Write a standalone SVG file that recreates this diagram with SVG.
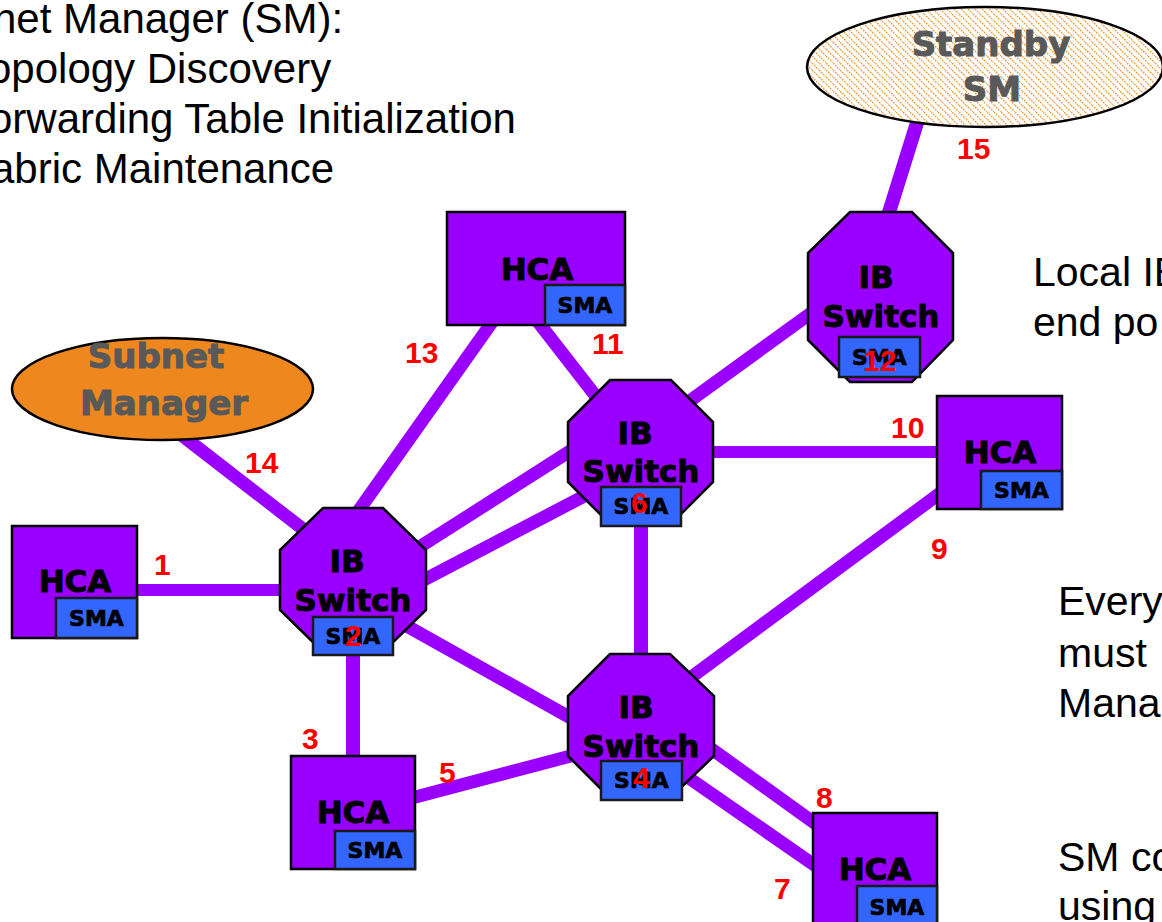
<svg xmlns="http://www.w3.org/2000/svg" width="1162" height="922" viewBox="0 0 1162 922">
<style>
.link{stroke:#9900FF;stroke-width:13;fill:none}
.sw{fill:#9900FF;stroke:#000;stroke-width:2.5}
.hca{fill:#9900FF;stroke:#000;stroke-width:2.5}
.sma{fill:#3366FF;stroke:#1a1a1a;stroke-width:2.5}
.nt{font-family:"DejaVu Sans",Verdana,sans-serif;font-weight:bold;font-size:31px;fill:#000;stroke:#000;stroke-width:1;text-anchor:middle}
.st{font-family:"DejaVu Sans",Verdana,sans-serif;font-weight:bold;font-size:22px;fill:#000;stroke:#000;stroke-width:0.7;text-anchor:middle}
.sm{font-family:"DejaVu Sans",Verdana,sans-serif;font-weight:bold;font-size:34px;fill:#595959;stroke:#595959;stroke-width:1;text-anchor:middle}
.num{font-family:"Liberation Sans",Arial,sans-serif;font-weight:bold;font-size:30px;fill:#FF0000}
.body{font-family:"Liberation Sans",Arial,sans-serif;font-size:42px;fill:#000}
.body2{font-family:"Liberation Sans",Arial,sans-serif;font-size:41px;fill:#000}
</style>
<defs>
<pattern id="hatch" patternUnits="userSpaceOnUse" width="7" height="7">
<rect width="7" height="7" fill="#FFFFFF"/>
<line x1="0" y1="0" x2="7" y2="7" stroke="#F29A3A" stroke-width="1.4" stroke-dasharray="1.8 1.1"/>
</pattern>
</defs>
<rect width="1162" height="922" fill="#FFFFFF"/>

<g id="text-left">
<text class="body" x="-7" y="33">net Manager (SM):</text>
<text class="body" x="-12" y="83">opology Discovery</text>
<text class="body" x="-11" y="133">orwarding Table Initialization</text>
<text class="body" x="-9" y="183">abric Maintenance</text>
</g>
<g id="text-right">
<text class="body2" x="1033" y="286">Local IB</text>
<text class="body2" x="1033" y="336">end po</text>
<text class="body2" x="1058" y="615">Every</text>
<text class="body2" x="1058" y="667">must</text>
<text class="body2" x="1058" y="717">Mana</text>
<text class="body2" x="1058" y="871">SM co</text>
<text class="body2" x="1058" y="920">using</text>
</g>

<g id="connectors">
<line class="link" x1="130" y1="590" x2="290" y2="590" style="stroke-width:12"/>
<line class="link" x1="175" y1="430" x2="312" y2="536"/>
<line class="link" x1="495" y1="318" x2="352" y2="520"/>
<line class="link" x1="535" y1="318" x2="605" y2="408"/>
<line class="link" x1="680" y1="408" x2="818" y2="308"/>
<line class="link" x1="705" y1="452" x2="945" y2="452" style="stroke-width:12"/>
<line class="link" x1="410" y1="553" x2="578" y2="446"/>
<line class="link" x1="418" y1="583" x2="592" y2="492"/>
<line class="link" x1="641" y1="520" x2="641" y2="660" style="stroke-width:14"/>
<line class="link" x1="405" y1="625" x2="578" y2="722"/>
<line class="link" x1="682" y1="684" x2="943" y2="491"/>
<line class="link" x1="408" y1="799" x2="582" y2="753"/>
<line class="link" x1="353" y1="650" x2="353" y2="762" style="stroke-width:14"/>
<line class="link" x1="706" y1="745" x2="820" y2="827"/>
<line class="link" x1="686" y1="776" x2="820" y2="869"/>
<line class="link" x1="921" y1="110" x2="886" y2="222" style="stroke-width:14"/>
</g>

<g id="subnet-manager">
<ellipse cx="162.5" cy="389" rx="150.5" ry="51" fill="#EE881E" stroke="#000" stroke-width="2.5"/>
<text class="sm" x="156" y="368">Subnet</text>
<text class="sm" x="164" y="415">Manager</text>
</g>

<g id="standby-sm">
<ellipse cx="985" cy="67" rx="178" ry="60" fill="url(#hatch)" stroke="#000" stroke-width="2.5"/>
<text class="sm" x="991" y="56">Standby</text>
<text class="sm" x="992" y="101">SM</text>
</g>

<g id="switch-2">
<polygon class="sw" points="323,508 383,508 426,550 426,610 383,652 323,652 280,610 280,550"/>
<text class="nt" x="347" y="572">IB</text>
<text class="nt" x="353" y="611">Switch</text>
<rect class="sma" x="313" y="617" width="80" height="38"/>
<text class="st" x="353" y="644">SMA</text>
</g>

<g id="switch-6">
<polygon class="sw" points="610,380 671,380 713,422 713,482 671,524 610,524 568,482 568,422"/>
<text class="nt" x="635" y="444">IB</text>
<text class="nt" x="641" y="482">Switch</text>
<rect class="sma" x="601" y="487" width="80" height="39"/>
<text class="st" x="641" y="514">SMA</text>
</g>

<g id="switch-4">
<polygon class="sw" points="610,654 670,654 714,696 714,756 670,798 610,798 568,756 568,696"/>
<text class="nt" x="636" y="718">IB</text>
<text class="nt" x="641" y="757">Switch</text>
<rect class="sma" x="601" y="761" width="81" height="39"/>
<text class="st" x="641.5" y="788">SMA</text>
</g>

<g id="switch-12">
<polygon class="sw" points="850,212 912,212 953,253 953,340 912,382 850,382 808,340 808,253"/>
<text class="nt" x="876" y="288">IB</text>
<text class="nt" x="881" y="327">Switch</text>
<rect class="sma" x="839" y="337" width="81" height="40"/>
<text class="st" x="879.5" y="365">SMA</text>
</g>

<g id="hca-left">
<rect class="hca" x="12" y="526" width="125" height="112"/>
<text class="nt" x="75" y="592">HCA</text>
<rect class="sma" x="56" y="598" width="81" height="40"/>
<text class="st" x="96.5" y="626">SMA</text>
</g>

<g id="hca-top">
<rect class="hca" x="447" y="212" width="178" height="113"/>
<text class="nt" x="537" y="280">HCA</text>
<rect class="sma" x="545" y="285" width="80" height="40"/>
<text class="st" x="585" y="313">SMA</text>
</g>

<g id="hca-right">
<rect class="hca" x="937" y="396" width="125" height="113"/>
<text class="nt" x="1000" y="463">HCA</text>
<rect class="sma" x="981" y="471" width="81" height="38"/>
<text class="st" x="1021.5" y="498">SMA</text>
</g>

<g id="hca-bottom-left">
<rect class="hca" x="291" y="756" width="124" height="113"/>
<text class="nt" x="353" y="823">HCA</text>
<rect class="sma" x="335" y="831" width="80" height="38"/>
<text class="st" x="375" y="858">SMA</text>
</g>

<g id="hca-bottom-right">
<rect class="hca" x="813" y="813" width="124" height="113"/>
<text class="nt" x="875" y="880">HCA</text>
<rect class="sma" x="857" y="886" width="80" height="40"/>
<text class="st" x="897" y="915">SMA</text>
</g>

<g id="labels">
<text class="num" x="154" y="575">1</text>
<text class="num" x="345" y="646">2</text>
<text class="num" x="302" y="749">3</text>
<text class="num" x="633" y="788">4</text>
<text class="num" x="439" y="783">5</text>
<text class="num" x="631" y="513">6</text>
<text class="num" x="774" y="899">7</text>
<text class="num" x="816" y="808">8</text>
<text class="num" x="931" y="559">9</text>
<text class="num" x="891" y="438">10</text>
<text class="num" x="592" y="354">11</text>
<text class="num" x="863" y="371">12</text>
<text class="num" x="405" y="363">13</text>
<text class="num" x="245" y="473">14</text>
<text class="num" x="957" y="159">15</text>
</g>
</svg>
